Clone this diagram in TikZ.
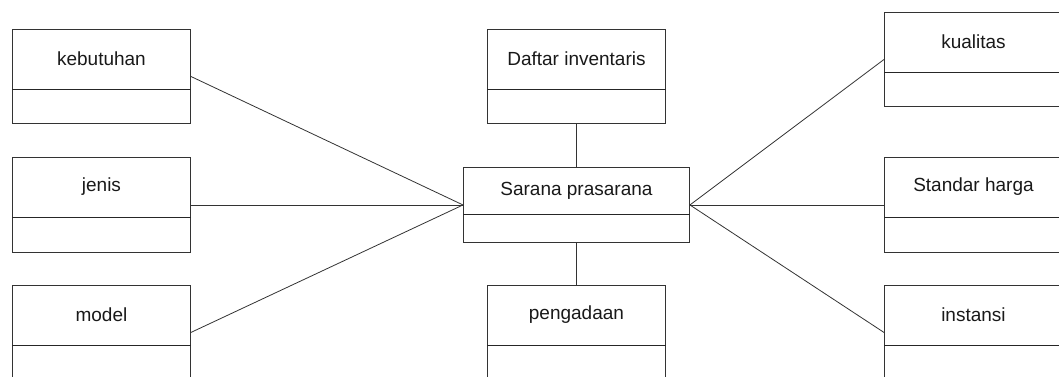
\documentclass[tikz,border=0pt]{standalone}
\usepackage{fontspec}
\setmainfont{Liberation Sans}
\begin{document}
\begin{tikzpicture}[x=1pt,y=-1pt,
  entity/.style={draw=black!80, line width=0.9pt, inner sep=0pt, anchor=north west},
  divider/.style={draw=black!85, line width=0.9pt},
  title/.style={font=\fontsize{19}{22}\selectfont, text=black!90, inner sep=0pt},
  link/.style={draw=black!80, line width=0.8pt}]
\useasboundingbox (0,0) rectangle (1059,376);
\clip (0,0) rectangle (1059,376);
% #1 name, #2 left, #3 top, #4 width, #5 height, #6 divider offset, #7 label
\newcommand{\entitybox}[7]{%
  \node[entity, minimum width=#4pt, minimum height=#5pt] (#1) at (#2,#3) {};
  \draw[divider] ([yshift=-#6pt]#1.north west) -- ([yshift=-#6pt]#1.north east);
  \node[title] (#1-label) at ([yshift=-#6pt/2]#1.north) {#7};
}
% left column
\entitybox{keb}{12}{29}{178}{94}{60}{kebutuhan}
\entitybox{jen}{12}{157}{178}{95}{60}{jenis}
\entitybox{mod}{12}{285}{178}{94}{60}{model}
% middle column
\entitybox{daf}{487}{29}{178}{94}{60}{Daftar inventaris}
\entitybox{sar}{463}{167}{226}{75}{47}{Sarana prasarana}
\entitybox{pen}{487}{285}{178}{94}{60}{pengadaan}
% right column
\entitybox{kua}{884}{12}{178}{94}{60}{kualitas}
\entitybox{sta}{884}{157}{178}{95}{60}{Standar harga}
\entitybox{ins}{884}{285}{178}{94}{60}{instansi}
% relations
\draw[link] (keb.east) -- (sar.west);
\draw[link] (jen.east) -- (sar.west);
\draw[link] (mod.east) -- (sar.west);
\draw[link] (kua.west) -- (sar.east);
\draw[link] (sta.west) -- (sar.east);
\draw[link] (ins.west) -- (sar.east);
\draw[link] (daf.south) -- (sar.north);
\draw[link] (sar.south) -- (pen.north);
\end{tikzpicture}
\end{document}
